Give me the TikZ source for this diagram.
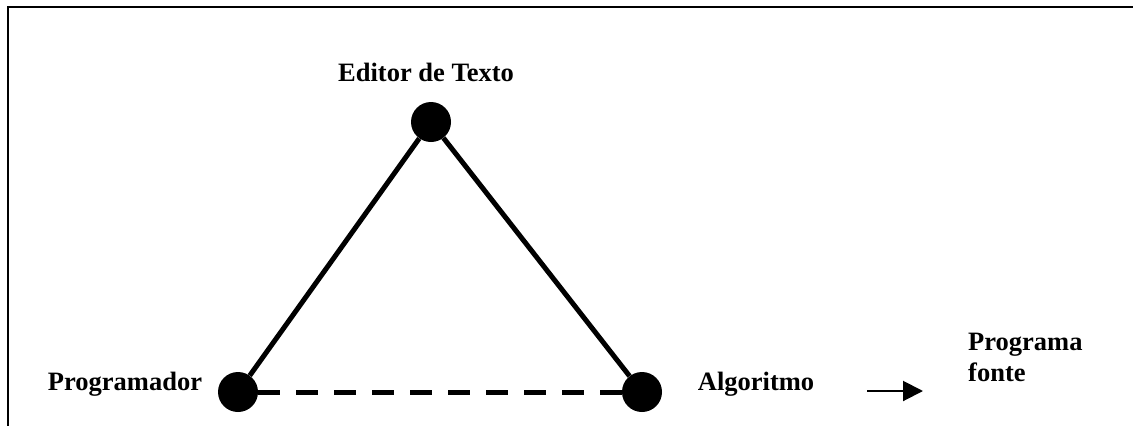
\documentclass[tikz,border=0pt]{standalone}
\usepackage{fontspec}
\setmainfont{Liberation Serif}
\usetikzlibrary{arrows,arrows.meta}

\begin{document}
\begin{tikzpicture}[x=1pt,y=-1pt,-,>=stealth',
  dot node/.style={circle,fill=black,inner sep=0pt,minimum size=40pt},
  word node/.style={inner sep=0pt,font=\fontsize{26.5}{31}\selectfont\bfseries}]
  \useasboundingbox (0,0) rectangle (1133,426);
  % frame
  \draw[line width=2pt] (1133,7) -- (8,7) -- (8,426);

  \node[dot node] (ed) at (431,122) {};
  \node[dot node] (prog) at (238,392) {};
  \node[dot node] (alg) at (642,392) {};

  \node[word node,anchor=base] (edtxt) at (426,81) {Editor de Texto};
  \node[word node,anchor=base] (progtxt) at (125,390) {Programador};
  \node[word node,anchor=base] (algtxt) at (756,390) {Algoritmo};
  \node[word node,anchor=base west,align=left] (fonte) at (968,381) {Programa\\fonte};

  \path[line width=5pt]
    (prog) edge (ed)
    (ed) edge (alg)
    (prog) edge[dash pattern=on 22pt off 16pt] (alg);

  \coordinate (a1) at (867,391);
  \coordinate (a2) at (923,391);
  \draw[line width=2pt,-{Triangle[length=20pt,width=20pt]}] (a1) -- (a2);
\end{tikzpicture}
\end{document}
